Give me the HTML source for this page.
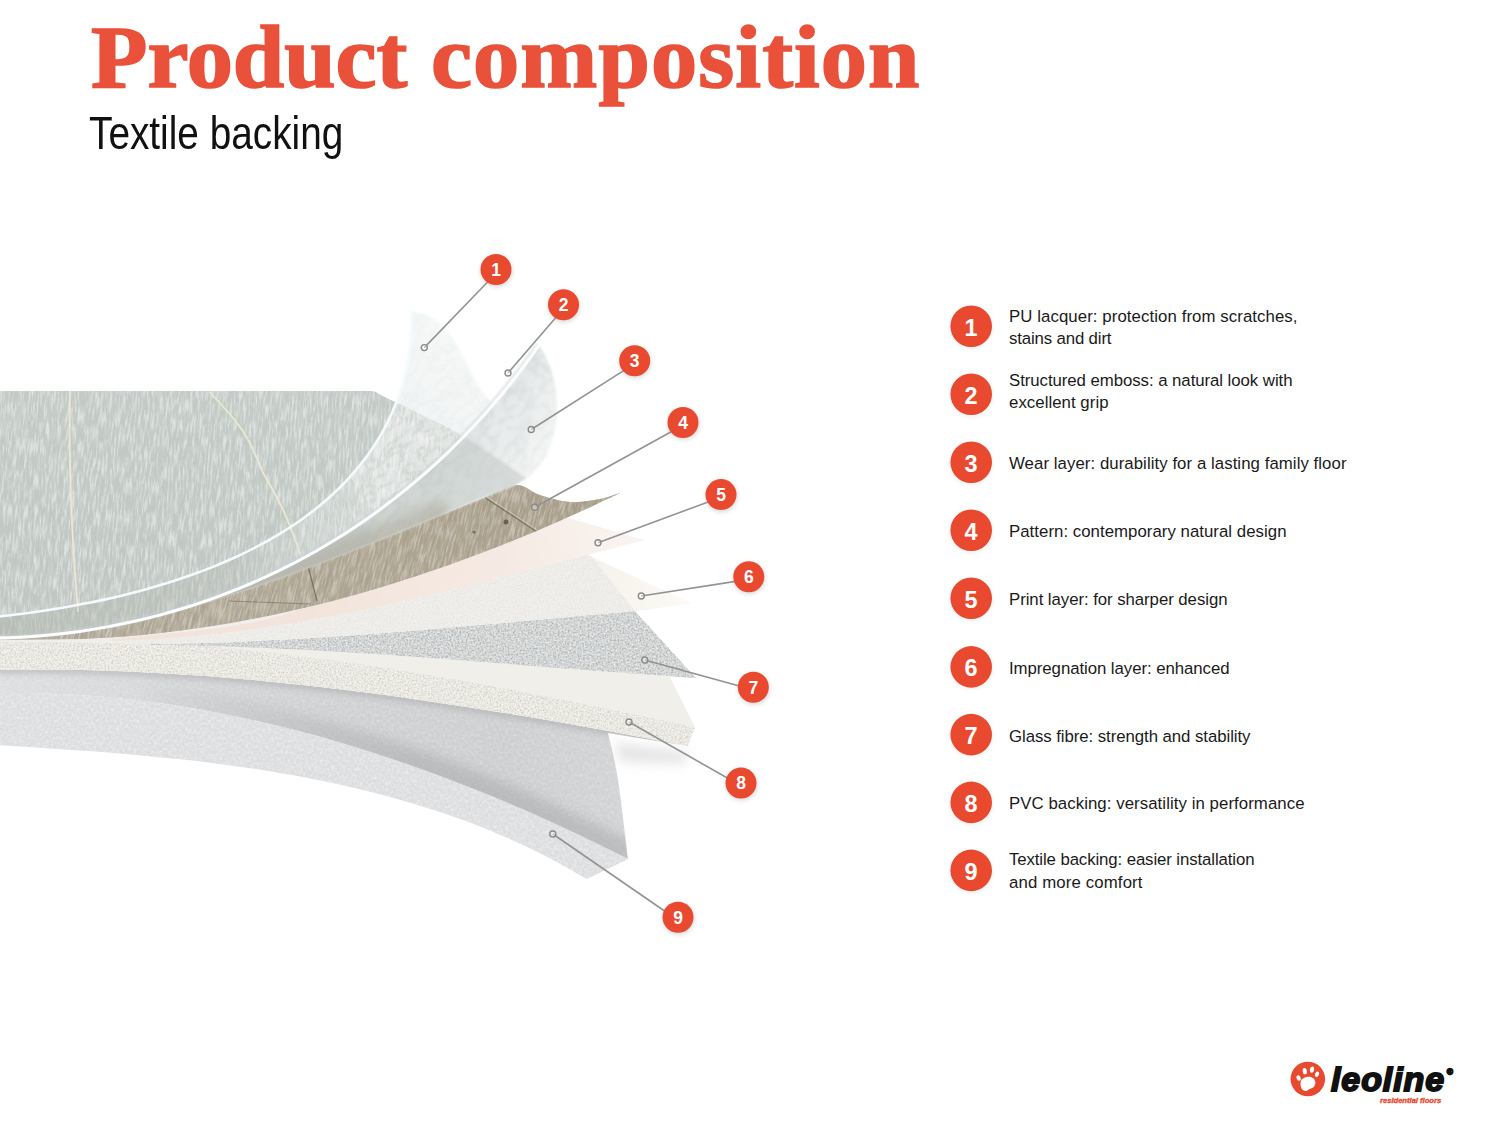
<!DOCTYPE html>
<html lang="en"><head><meta charset="utf-8"><title>Product composition - Textile backing</title>
<style>
html,body{margin:0;padding:0;background:#fff}
body{width:1500px;height:1125px;position:relative;overflow:hidden;font-family:"Liberation Sans",sans-serif}
h1{position:absolute;left:91px;top:8.5px;margin:0;font:bold 88px/97px "Liberation Serif",serif;color:#e9513a;letter-spacing:.62px;white-space:nowrap;-webkit-text-stroke:1.7px #e9513a;transform:scaleX(1.05);transform-origin:0 0}
.sub{position:absolute;left:89.2px;top:109.6px;font:45.5px/48px "Liberation Sans",sans-serif;color:#111;white-space:nowrap;transform:scaleX(.852);transform-origin:0 0}
.lg{position:absolute;left:1009px;font:16.8px/21.8px "Liberation Sans",sans-serif;color:#1a1a1a;white-space:nowrap}
.logo{position:absolute;left:1331px;top:1059.6px;font:italic bold 34px/38px "Liberation Sans",sans-serif;color:#111;letter-spacing:.9px;-webkit-text-stroke:1.9px #111;white-space:nowrap}
.tag{position:absolute;left:1380px;top:1096px;font:italic bold 7.6px/9px "Liberation Sans",sans-serif;color:#e8492f;white-space:nowrap;-webkit-text-stroke:.35px #e8492f}
</style></head><body>
<svg width="1500" height="1125" viewBox="0 0 1500 1125" style="position:absolute;left:0;top:0">
<defs>
<filter id="spk" x="0" y="0" width="100%" height="100%"><feTurbulence type="fractalNoise" baseFrequency="0.6" numOctaves="2" seed="3" result="n"/><feColorMatrix in="n" type="matrix" values="0 0 0 0 0  0 0 0 0 0  0 0 0 0 0  1.6 0 0 0 -0.62"/><feComposite in2="SourceGraphic" operator="in"/></filter>
<filter id="spkw" x="0" y="0" width="100%" height="100%"><feTurbulence type="fractalNoise" baseFrequency="0.5" numOctaves="2" seed="11" result="n"/><feColorMatrix in="n" type="matrix" values="0 0 0 0 1  0 0 0 0 1  0 0 0 0 1  1.8 0 0 0 -0.7"/><feComposite in2="SourceGraphic" operator="in"/></filter>
<filter id="felt" x="0" y="0" width="100%" height="100%"><feTurbulence type="fractalNoise" baseFrequency="0.35" numOctaves="3" seed="7" result="n"/><feColorMatrix in="n" type="matrix" values="0 0 0 0 1  0 0 0 0 1  0 0 0 0 1  1.5 0 0 0 -0.55"/><feComposite in2="SourceGraphic" operator="in"/></filter>
<filter id="grain" x="0" y="0" width="100%" height="100%"><feTurbulence type="fractalNoise" baseFrequency="0.55 0.06" numOctaves="3" seed="5" result="n"/><feColorMatrix in="n" type="matrix" values="0 0 0 0 1  0 0 0 0 1  0 0 0 0 1  3.2 0 0 0 -1.35"/><feComposite in2="SourceGraphic" operator="in"/></filter>
<filter id="marble" x="0" y="0" width="100%" height="100%"><feTurbulence type="turbulence" baseFrequency="0.05 0.09" numOctaves="3" seed="4" result="n"/><feColorMatrix in="n" type="matrix" values="0 0 0 0 1  0 0 0 0 1  0 0 0 0 1  4.5 0 0 0 -0.55"/><feComposite in2="SourceGraphic" operator="in"/></filter>
<filter id="grain2" x="0" y="0" width="100%" height="100%"><feTurbulence type="fractalNoise" baseFrequency="0.3 0.035" numOctaves="2" seed="21" result="n"/><feColorMatrix in="n" type="matrix" values="0 0 0 0 0.56  0 0 0 0 0.6  0 0 0 0 0.59  3 0 0 0 -1.4"/><feComposite in2="SourceGraphic" operator="in"/></filter>
<filter id="graind" x="0" y="0" width="100%" height="100%"><feTurbulence type="fractalNoise" baseFrequency="0.5 0.035" numOctaves="3" seed="9" result="n"/><feColorMatrix in="n" type="matrix" values="0 0 0 0 0.36  0 0 0 0 0.31  0 0 0 0 0.23  3.4 0 0 0 -1.45"/><feComposite in2="SourceGraphic" operator="in"/></filter>
<filter id="blur6" x="-50%" y="-100%" width="200%" height="300%"><feGaussianBlur stdDeviation="6"/></filter>
<filter id="blur3" x="-5%" y="-50%" width="110%" height="200%"><feGaussianBlur stdDeviation="3"/></filter>
<filter id="blur1" x="-5%" y="-5%" width="110%" height="110%"><feGaussianBlur stdDeviation="1.1"/></filter>
<filter id="bsh" x="-30%" y="-30%" width="160%" height="160%"><feGaussianBlur stdDeviation="2"/></filter>
<linearGradient id="gFloor" x1="0" y1="391" x2="0" y2="640" gradientUnits="userSpaceOnUse"><stop offset="0" stop-color="#c3cbc6"/><stop offset="1" stop-color="#bfc7c2"/></linearGradient>
<linearGradient id="gWood" x1="100" y1="640" x2="600" y2="480" gradientUnits="userSpaceOnUse"><stop offset="0" stop-color="#b4ad9d"/><stop offset="0.55" stop-color="#b0a895"/><stop offset="1" stop-color="#a89e8a"/></linearGradient>
<linearGradient id="gTexTop" x1="0" y1="0" x2="630" y2="0" gradientUnits="userSpaceOnUse"><stop offset="0" stop-color="#dddedf"/><stop offset="0.25" stop-color="#d6d7d8"/><stop offset="0.5" stop-color="#d0d1d2"/><stop offset="0.8" stop-color="#cdcecf"/><stop offset="1" stop-color="#d2d3d5"/></linearGradient>
<linearGradient id="gTexTopL" x1="0" y1="670" x2="0" y2="700" gradientUnits="userSpaceOnUse"><stop offset="0" stop-color="#b9babb"/><stop offset="1" stop-color="#d2d3d4"/></linearGradient>
<linearGradient id="gF2" x1="455" y1="405" x2="550" y2="480" gradientUnits="userSpaceOnUse"><stop offset="0" stop-color="#cfd5d5"/><stop offset="0.45" stop-color="#dee3e3"/><stop offset="1" stop-color="#f2f4f4"/></linearGradient>
<linearGradient id="gF1" x1="330" y1="520" x2="440" y2="320" gradientUnits="userSpaceOnUse"><stop offset="0" stop-color="#dde3e2"/><stop offset="0.5" stop-color="#e6ebeb"/><stop offset="1" stop-color="#eef2f2"/></linearGradient>
<linearGradient id="gPeach" x1="300" y1="620" x2="640" y2="530" gradientUnits="userSpaceOnUse"><stop offset="0" stop-color="#f2e4db"/><stop offset="0.6" stop-color="#f5eae3"/><stop offset="1" stop-color="#faf4f0"/></linearGradient>
<linearGradient id="gL6" x1="560" y1="0" x2="691" y2="0" gradientUnits="userSpaceOnUse"><stop offset="0" stop-color="#f3f1ec"/><stop offset="0.5" stop-color="#f8f5ef"/><stop offset="1" stop-color="#fcfaf6"/></linearGradient>
<linearGradient id="gVeil" x1="0" y1="0" x2="520" y2="0" gradientUnits="userSpaceOnUse"><stop offset="0" stop-color="#a9aca4" stop-opacity=".38"/><stop offset="0.45" stop-color="#b4b7b0" stop-opacity=".3"/><stop offset="0.6" stop-color="#e8eceb" stop-opacity=".2"/><stop offset="0.72" stop-color="#fff" stop-opacity=".24"/><stop offset="1" stop-color="#fff" stop-opacity=".28"/></linearGradient>
<linearGradient id="gTTd" x1="120" y1="0" x2="420" y2="0" gradientUnits="userSpaceOnUse"><stop offset="0" stop-color="#a4a5a8" stop-opacity="0"/><stop offset="1" stop-color="#a4a5a8" stop-opacity="1"/></linearGradient>
</defs>
<path d="M-5.0 670.0C4.0 669.9 30.9 669.5 48.8 669.6C66.8 669.7 84.7 670.0 102.6 670.6C120.5 671.1 138.4 671.9 156.3 672.9C174.1 673.8 192.0 675.0 209.9 676.3C227.7 677.7 245.5 679.2 263.3 680.9C281.2 682.6 299.0 684.5 316.7 686.5C334.5 688.5 352.3 690.7 370.1 693.0C387.8 695.3 405.6 697.8 423.3 700.4C441.0 702.9 458.7 705.6 476.4 708.4C494.1 711.2 511.8 714.1 529.4 717.1C547.1 720.1 564.8 723.2 582.4 726.3C600.0 729.5 617.6 732.7 635.2 736.0C652.8 739.3 679.2 744.3 688.0 746.0L608.0 733.0C609.7 740.8 614.7 759.0 618.0 780.0C621.3 801.0 626.3 845.8 628.0 859.0L628.0 859.0C620.4 855.3 597.8 843.9 582.5 836.6C567.3 829.3 551.9 822.2 536.4 815.3C520.9 808.5 505.3 801.8 489.7 795.3C474.0 788.9 458.2 782.7 442.3 776.7C426.4 770.8 410.4 765.1 394.4 759.7C378.3 754.3 362.1 749.1 345.9 744.3C329.7 739.4 313.4 734.8 297.0 730.6C280.6 726.4 264.1 722.4 247.6 718.9C231.0 715.3 214.4 712.0 197.7 709.1C181.1 706.2 164.3 703.7 147.5 701.6C130.7 699.4 113.9 697.6 97.0 696.3C80.1 694.9 63.1 693.9 46.1 693.4C29.1 692.8 3.5 693.1 -5.0 693.0Z" fill="url(#gTexTop)"/>
<path d="M-5.0 670.0C4.0 669.9 30.9 669.5 48.8 669.6C66.8 669.7 84.7 670.0 102.6 670.6C120.5 671.1 138.4 671.9 156.3 672.9C174.1 673.8 192.0 675.0 209.9 676.3C227.7 677.7 245.5 679.2 263.3 680.9C281.2 682.6 299.0 684.5 316.7 686.5C334.5 688.5 352.3 690.7 370.1 693.0C387.8 695.3 405.6 697.8 423.3 700.4C441.0 702.9 458.7 705.6 476.4 708.4C494.1 711.2 511.8 714.1 529.4 717.1C547.1 720.1 564.8 723.2 582.4 726.3C600.0 729.5 617.6 732.7 635.2 736.0C652.8 739.3 679.2 744.3 688.0 746.0L608.0 733.0C609.7 740.8 614.7 759.0 618.0 780.0C621.3 801.0 626.3 845.8 628.0 859.0L628.0 859.0C620.4 855.3 597.8 843.9 582.5 836.6C567.3 829.3 551.9 822.2 536.4 815.3C520.9 808.5 505.3 801.8 489.7 795.3C474.0 788.9 458.2 782.7 442.3 776.7C426.4 770.8 410.4 765.1 394.4 759.7C378.3 754.3 362.1 749.1 345.9 744.3C329.7 739.4 313.4 734.8 297.0 730.6C280.6 726.4 264.1 722.4 247.6 718.9C231.0 715.3 214.4 712.0 197.7 709.1C181.1 706.2 164.3 703.7 147.5 701.6C130.7 699.4 113.9 697.6 97.0 696.3C80.1 694.9 63.1 693.9 46.1 693.4C29.1 692.8 3.5 693.1 -5.0 693.0Z" fill="#fff" opacity=".35" filter="url(#felt)"/>
<path d="M-5.0 693.0C3.5 693.1 29.1 692.8 46.1 693.4C63.1 693.9 80.1 694.9 97.0 696.3C113.9 697.6 130.7 699.4 147.5 701.6C164.3 703.7 181.1 706.2 197.7 709.1C214.4 712.0 231.0 715.3 247.6 718.9C264.1 722.4 280.6 726.4 297.0 730.6C313.4 734.8 329.7 739.4 345.9 744.3C362.1 749.1 378.3 754.3 394.4 759.7C410.4 765.1 426.4 770.8 442.3 776.7C458.2 782.7 474.0 788.9 489.7 795.3C505.3 801.8 520.9 808.5 536.4 815.3C551.9 822.2 567.3 829.3 582.5 836.6C597.8 843.9 620.4 855.3 628.0 859.0L628.0 859.0C621.2 862.3 593.8 875.7 587.0 879.0L587.0 879.0C580.1 875.2 559.5 863.1 545.4 856.0C531.4 848.8 517.1 842.1 502.7 835.9C488.3 829.7 473.7 824.0 459.0 818.6C444.3 813.3 429.4 808.4 414.4 803.9C399.5 799.4 384.3 795.3 369.1 791.4C353.9 787.6 338.6 784.2 323.2 781.0C307.8 777.9 292.3 775.0 276.8 772.4C261.3 769.8 245.6 767.5 230.0 765.4C214.4 763.2 198.7 761.3 183.0 759.6C167.3 757.9 151.6 756.4 135.8 754.9C120.1 753.5 104.4 752.3 88.7 751.1C73.0 749.9 57.4 748.9 41.7 747.9C26.1 746.9 2.8 745.5 -5.0 745.0Z" fill="#dcddde"/>
<path d="M-5.0 693.0C3.5 693.1 29.1 692.8 46.1 693.4C63.1 693.9 80.1 694.9 97.0 696.3C113.9 697.6 130.7 699.4 147.5 701.6C164.3 703.7 181.1 706.2 197.7 709.1C214.4 712.0 231.0 715.3 247.6 718.9C264.1 722.4 280.6 726.4 297.0 730.6C313.4 734.8 329.7 739.4 345.9 744.3C362.1 749.1 378.3 754.3 394.4 759.7C410.4 765.1 426.4 770.8 442.3 776.7C458.2 782.7 474.0 788.9 489.7 795.3C505.3 801.8 520.9 808.5 536.4 815.3C551.9 822.2 567.3 829.3 582.5 836.6C597.8 843.9 620.4 855.3 628.0 859.0L628.0 859.0C621.2 862.3 593.8 875.7 587.0 879.0L587.0 879.0C580.1 875.2 559.5 863.1 545.4 856.0C531.4 848.8 517.1 842.1 502.7 835.9C488.3 829.7 473.7 824.0 459.0 818.6C444.3 813.3 429.4 808.4 414.4 803.9C399.5 799.4 384.3 795.3 369.1 791.4C353.9 787.6 338.6 784.2 323.2 781.0C307.8 777.9 292.3 775.0 276.8 772.4C261.3 769.8 245.6 767.5 230.0 765.4C214.4 763.2 198.7 761.3 183.0 759.6C167.3 757.9 151.6 756.4 135.8 754.9C120.1 753.5 104.4 752.3 88.7 751.1C73.0 749.9 57.4 748.9 41.7 747.9C26.1 746.9 2.8 745.5 -5.0 745.0Z" fill="#fff" opacity=".6" filter="url(#felt)"/>
<path d="M-5.0 670.0C4.0 669.9 30.9 669.5 48.8 669.6C66.8 669.7 84.7 670.0 102.6 670.6C120.5 671.1 138.4 671.9 156.3 672.9C174.1 673.8 192.0 675.0 209.9 676.3C227.7 677.7 245.5 679.2 263.3 680.9C281.2 682.6 299.0 684.5 316.7 686.5C334.5 688.5 352.3 690.7 370.1 693.0C387.8 695.3 405.6 697.8 423.3 700.4C441.0 702.9 458.7 705.6 476.4 708.4C494.1 711.2 511.8 714.1 529.4 717.1C547.1 720.1 564.8 723.2 582.4 726.3C600.0 729.5 617.6 732.7 635.2 736.0C652.8 739.3 679.2 744.3 688.0 746.0" fill="none" stroke="#9d9e9f" stroke-width="7" opacity=".5" filter="url(#blur3)" clip-path="url(#cTex)"/>
<g clip-path="url(#cTex)"><path d="M147.5 701.6C155.9 702.8 181.1 706.2 197.7 709.1C214.4 712.0 231.0 715.3 247.6 718.9C264.1 722.4 280.6 726.4 297.0 730.6C313.4 734.8 329.7 739.4 345.9 744.3C362.1 749.1 378.3 754.3 394.4 759.7C410.4 765.1 426.4 770.8 442.3 776.7C458.2 782.7 474.0 788.9 489.7 795.3C505.3 801.8 520.9 808.5 536.4 815.3C551.9 822.2 567.3 829.3 582.5 836.6C597.8 843.9 620.4 855.3 628.0 859.0" fill="none" stroke="url(#gTTd)" stroke-width="34" opacity=".5" filter="url(#blur6)"/></g>
<clipPath id="cTex"><path d="M-5.0 670.0C4.0 669.9 30.9 669.5 48.8 669.6C66.8 669.7 84.7 670.0 102.6 670.6C120.5 671.1 138.4 671.9 156.3 672.9C174.1 673.8 192.0 675.0 209.9 676.3C227.7 677.7 245.5 679.2 263.3 680.9C281.2 682.6 299.0 684.5 316.7 686.5C334.5 688.5 352.3 690.7 370.1 693.0C387.8 695.3 405.6 697.8 423.3 700.4C441.0 702.9 458.7 705.6 476.4 708.4C494.1 711.2 511.8 714.1 529.4 717.1C547.1 720.1 564.8 723.2 582.4 726.3C600.0 729.5 617.6 732.7 635.2 736.0C652.8 739.3 679.2 744.3 688.0 746.0L608.0 733.0C609.7 740.8 614.7 759.0 618.0 780.0C621.3 801.0 626.3 845.8 628.0 859.0L628.0 859.0C620.4 855.3 597.8 843.9 582.5 836.6C567.3 829.3 551.9 822.2 536.4 815.3C520.9 808.5 505.3 801.8 489.7 795.3C474.0 788.9 458.2 782.7 442.3 776.7C426.4 770.8 410.4 765.1 394.4 759.7C378.3 754.3 362.1 749.1 345.9 744.3C329.7 739.4 313.4 734.8 297.0 730.6C280.6 726.4 264.1 722.4 247.6 718.9C231.0 715.3 214.4 712.0 197.7 709.1C181.1 706.2 164.3 703.7 147.5 701.6C130.7 699.4 113.9 697.6 97.0 696.3C80.1 694.9 63.1 693.9 46.1 693.4C29.1 692.8 3.5 693.1 -5.0 693.0Z"/></clipPath>
<path d="M614 742 L690 752 L684 764 L620 762Z" fill="#b0b0b0" opacity=".32" filter="url(#blur6)"/>
<path d="M-5.0 642.0C12.5 642.2 74.2 642.6 100.0 643.0C125.8 643.4 141.7 644.2 150.0 644.5L210.8 646.1C220.9 646.4 251.3 647.4 271.5 648.3C291.8 649.2 312.0 650.3 332.2 651.5C352.5 652.6 372.7 654.0 392.9 655.3C413.1 656.7 433.3 658.2 453.5 659.7C473.7 661.2 493.9 662.8 514.1 664.4C534.3 666.0 554.5 667.6 574.7 669.2C594.9 670.7 615.1 672.3 635.3 673.8C655.6 675.2 685.9 677.3 696.0 678.0L696.0 678.0C691.5 677.5 673.5 675.5 669.0 675.0L669.0 675.0C673.3 683.7 690.7 718.3 695.0 727.0L695.0 727.0C693.8 730.2 689.2 742.8 688.0 746.0L688.0 746.0C679.2 744.3 652.8 739.3 635.2 736.0C617.6 732.7 600.0 729.5 582.4 726.3C564.8 723.2 547.1 720.1 529.4 717.1C511.8 714.1 494.1 711.2 476.4 708.4C458.7 705.6 441.0 702.9 423.3 700.4C405.6 697.8 387.8 695.3 370.1 693.0C352.3 690.7 334.5 688.5 316.7 686.5C299.0 684.5 281.2 682.6 263.3 680.9C245.5 679.2 227.7 677.7 209.9 676.3C192.0 675.0 174.1 673.8 156.3 672.9C138.4 671.9 120.5 671.1 102.6 670.6C84.7 670.0 66.8 669.7 48.8 669.6C30.9 669.5 4.0 669.9 -5.0 670.0Z" fill="#f0efea"/>
<path d="M-5.0 642.0C5.8 641.7 38.1 640.5 59.6 640.4C81.1 640.3 102.5 640.7 123.9 641.4C145.3 642.2 166.7 643.4 188.1 644.9C209.4 646.4 230.7 648.3 252.0 650.5C273.3 652.7 294.6 655.2 315.8 657.9C337.0 660.7 358.2 663.8 379.4 667.0C400.6 670.2 421.7 673.7 442.8 677.4C463.9 681.0 485.0 684.9 506.1 688.9C527.2 692.8 548.2 696.9 569.2 701.1C590.2 705.3 611.2 709.6 632.2 713.9C653.1 718.2 684.5 724.8 695.0 727.0L695.0 727.0C693.8 730.2 689.2 742.8 688.0 746.0L688.0 746.0C679.2 744.3 652.8 739.3 635.2 736.0C617.6 732.7 600.0 729.5 582.4 726.3C564.8 723.2 547.1 720.1 529.4 717.1C511.8 714.1 494.1 711.2 476.4 708.4C458.7 705.6 441.0 702.9 423.3 700.4C405.6 697.8 387.8 695.3 370.1 693.0C352.3 690.7 334.5 688.5 316.7 686.5C299.0 684.5 281.2 682.6 263.3 680.9C245.5 679.2 227.7 677.7 209.9 676.3C192.0 675.0 174.1 673.8 156.3 672.9C138.4 671.9 120.5 671.1 102.6 670.6C84.7 670.0 66.8 669.7 48.8 669.6C30.9 669.5 4.0 669.9 -5.0 670.0Z" fill="#eeece4"/>
<path d="M-5.0 642.0C5.8 641.7 38.1 640.5 59.6 640.4C81.1 640.3 102.5 640.7 123.9 641.4C145.3 642.2 166.7 643.4 188.1 644.9C209.4 646.4 230.7 648.3 252.0 650.5C273.3 652.7 294.6 655.2 315.8 657.9C337.0 660.7 358.2 663.8 379.4 667.0C400.6 670.2 421.7 673.7 442.8 677.4C463.9 681.0 485.0 684.9 506.1 688.9C527.2 692.8 548.2 696.9 569.2 701.1C590.2 705.3 611.2 709.6 632.2 713.9C653.1 718.2 684.5 724.8 695.0 727.0L695.0 727.0C693.8 730.2 689.2 742.8 688.0 746.0L688.0 746.0C679.2 744.3 652.8 739.3 635.2 736.0C617.6 732.7 600.0 729.5 582.4 726.3C564.8 723.2 547.1 720.1 529.4 717.1C511.8 714.1 494.1 711.2 476.4 708.4C458.7 705.6 441.0 702.9 423.3 700.4C405.6 697.8 387.8 695.3 370.1 693.0C352.3 690.7 334.5 688.5 316.7 686.5C299.0 684.5 281.2 682.6 263.3 680.9C245.5 679.2 227.7 677.7 209.9 676.3C192.0 675.0 174.1 673.8 156.3 672.9C138.4 671.9 120.5 671.1 102.6 670.6C84.7 670.0 66.8 669.7 48.8 669.6C30.9 669.5 4.0 669.9 -5.0 670.0Z" fill="#b3b0a4" opacity=".2" filter="url(#spk)"/>
<path d="M-5.0 642.0C5.8 641.7 38.1 640.5 59.6 640.4C81.1 640.3 102.5 640.7 123.9 641.4C145.3 642.2 166.7 643.4 188.1 644.9C209.4 646.4 230.7 648.3 252.0 650.5C273.3 652.7 294.6 655.2 315.8 657.9C337.0 660.7 358.2 663.8 379.4 667.0C400.6 670.2 421.7 673.7 442.8 677.4C463.9 681.0 485.0 684.9 506.1 688.9C527.2 692.8 548.2 696.9 569.2 701.1C590.2 705.3 611.2 709.6 632.2 713.9C653.1 718.2 684.5 724.8 695.0 727.0L695.0 727.0C693.8 730.2 689.2 742.8 688.0 746.0L688.0 746.0C679.2 744.3 652.8 739.3 635.2 736.0C617.6 732.7 600.0 729.5 582.4 726.3C564.8 723.2 547.1 720.1 529.4 717.1C511.8 714.1 494.1 711.2 476.4 708.4C458.7 705.6 441.0 702.9 423.3 700.4C405.6 697.8 387.8 695.3 370.1 693.0C352.3 690.7 334.5 688.5 316.7 686.5C299.0 684.5 281.2 682.6 263.3 680.9C245.5 679.2 227.7 677.7 209.9 676.3C192.0 675.0 174.1 673.8 156.3 672.9C138.4 671.9 120.5 671.1 102.6 670.6C84.7 670.0 66.8 669.7 48.8 669.6C30.9 669.5 4.0 669.9 -5.0 670.0Z" fill="#fff" opacity=".75" filter="url(#spkw)"/>
<path d="M150.0 644.0C159.0 643.8 186.0 643.4 204.0 642.9C222.1 642.4 240.0 641.7 258.0 640.8C276.0 640.0 294.0 639.0 312.0 637.9C329.9 636.8 347.9 635.6 365.9 634.3C383.8 633.0 401.8 631.5 419.7 630.1C437.7 628.6 455.6 627.1 473.6 625.5C491.5 624.0 509.4 622.3 527.4 620.7C545.3 619.1 563.2 617.4 581.2 615.8C599.1 614.2 626.0 611.8 635.0 611.0L635.0 611.0C645.2 622.2 685.8 666.8 696.0 678.0L696.0 678.0C685.9 677.3 655.6 675.2 635.3 673.8C615.1 672.3 594.9 670.7 574.7 669.2C554.5 667.6 534.3 666.0 514.1 664.4C493.9 662.8 473.7 661.2 453.5 659.7C433.3 658.2 413.1 656.7 392.9 655.3C372.7 654.0 352.5 652.6 332.2 651.5C312.0 650.3 291.8 649.2 271.5 648.3C251.3 647.4 231.1 646.6 210.8 646.1C190.6 645.5 160.1 645.2 150.0 645.0Z" fill="#d5d8d8"/>
<path d="M150.0 644.0C159.0 643.8 186.0 643.4 204.0 642.9C222.1 642.4 240.0 641.7 258.0 640.8C276.0 640.0 294.0 639.0 312.0 637.9C329.9 636.8 347.9 635.6 365.9 634.3C383.8 633.0 401.8 631.5 419.7 630.1C437.7 628.6 455.6 627.1 473.6 625.5C491.5 624.0 509.4 622.3 527.4 620.7C545.3 619.1 563.2 617.4 581.2 615.8C599.1 614.2 626.0 611.8 635.0 611.0L635.0 611.0C645.2 622.2 685.8 666.8 696.0 678.0L696.0 678.0C685.9 677.3 655.6 675.2 635.3 673.8C615.1 672.3 594.9 670.7 574.7 669.2C554.5 667.6 534.3 666.0 514.1 664.4C493.9 662.8 473.7 661.2 453.5 659.7C433.3 658.2 413.1 656.7 392.9 655.3C372.7 654.0 352.5 652.6 332.2 651.5C312.0 650.3 291.8 649.2 271.5 648.3C251.3 647.4 231.1 646.6 210.8 646.1C190.6 645.5 160.1 645.2 150.0 645.0Z" fill="#9a9e9e" opacity=".3" filter="url(#spk)"/>
<path d="M150.0 644.0C159.0 643.8 186.0 643.4 204.0 642.9C222.1 642.4 240.0 641.7 258.0 640.8C276.0 640.0 294.0 639.0 312.0 637.9C329.9 636.8 347.9 635.6 365.9 634.3C383.8 633.0 401.8 631.5 419.7 630.1C437.7 628.6 455.6 627.1 473.6 625.5C491.5 624.0 509.4 622.3 527.4 620.7C545.3 619.1 563.2 617.4 581.2 615.8C599.1 614.2 626.0 611.8 635.0 611.0L635.0 611.0C645.2 622.2 685.8 666.8 696.0 678.0L696.0 678.0C685.9 677.3 655.6 675.2 635.3 673.8C615.1 672.3 594.9 670.7 574.7 669.2C554.5 667.6 534.3 666.0 514.1 664.4C493.9 662.8 473.7 661.2 453.5 659.7C433.3 658.2 413.1 656.7 392.9 655.3C372.7 654.0 352.5 652.6 332.2 651.5C312.0 650.3 291.8 649.2 271.5 648.3C251.3 647.4 231.1 646.6 210.8 646.1C190.6 645.5 160.1 645.2 150.0 645.0Z" fill="#fff" opacity=".8" filter="url(#spkw)"/>
<path d="M-5.0 640.0C1.1 639.6 19.5 638.9 31.6 637.8C43.7 636.8 55.8 635.4 67.8 633.7C79.8 632.1 91.8 630.1 103.7 627.9C115.6 625.7 127.5 623.2 139.3 620.5C151.1 617.8 162.9 614.8 174.6 611.7C186.3 608.5 197.9 605.2 209.6 601.6C221.2 598.1 232.8 594.4 244.3 590.6C255.9 586.7 267.4 582.7 278.9 578.6C290.3 574.5 301.8 570.3 313.2 566.0C324.6 561.7 336.0 557.2 347.3 552.8C358.7 548.3 370.0 543.8 381.3 539.2C392.6 534.7 403.9 530.1 415.1 525.5C426.4 521.0 437.6 516.3 448.9 511.8C460.1 507.2 471.3 502.7 482.5 498.2C493.7 493.8 510.4 487.2 516.0 485.0L516.0 485.0C528.7 497.0 562.8 537.3 592.0 557.0C621.2 576.7 674.5 595.3 691.0 603.0L691.0 603.0C681.7 604.3 644.3 609.7 635.0 611.0L635.0 611.0C626.0 611.8 599.1 614.2 581.2 615.8C563.2 617.4 545.3 619.1 527.4 620.7C509.4 622.3 491.5 624.0 473.6 625.5C455.6 627.1 437.7 628.6 419.7 630.1C401.8 631.5 383.8 633.0 365.9 634.3C347.9 635.6 329.9 636.8 312.0 637.9C294.0 639.0 276.0 640.0 258.0 640.8C240.0 641.7 222.1 642.4 204.0 642.9C186.0 643.4 159.0 643.8 150.0 644.0L100.0 643.0C82.5 642.8 12.5 642.2 -5.0 642.0Z" fill="#f0efeb"/>
<path d="M112.0 641.0C122.1 640.5 152.3 639.5 172.3 637.9C192.4 636.4 212.4 634.3 232.4 631.8C252.3 629.3 272.2 626.3 292.1 623.0C311.9 619.7 331.7 615.9 351.5 611.9C371.3 608.0 391.0 603.7 410.6 599.2C430.3 594.7 450.0 590.0 469.6 585.2C489.2 580.4 508.7 575.3 528.2 570.3C547.8 565.3 576.1 557.3 586.7 555.1C597.3 552.9 591.1 556.7 592.0 557.0L592.0 557.0C599.2 566.0 627.8 602.0 635.0 611.0L635.0 611.0C626.0 611.8 599.1 614.2 581.2 615.8C563.2 617.4 545.3 619.1 527.4 620.7C509.4 622.3 491.5 624.0 473.6 625.5C455.6 627.1 437.7 628.6 419.7 630.1C401.8 631.5 383.8 633.0 365.9 634.3C347.9 635.6 329.9 636.8 312.0 637.9C294.0 639.0 276.0 640.0 258.0 640.8C240.0 641.7 222.1 642.4 204.0 642.9C186.0 643.4 159.0 643.8 150.0 644.0Z" fill="#c2c0ba" opacity=".06" filter="url(#spk)"/>
<path d="M592 557 L691 603 L635 611 Z" fill="url(#gL6)"/>
<path d="M112.0 639.0C137.3 635.8 216.0 631.2 264.0 620.0C312.0 608.8 360.7 585.7 400.0 572.0C439.3 558.3 473.0 547.3 500.0 538.0C527.0 528.7 551.7 519.7 562.0 516.0L562.0 516.0C575.8 520.0 631.2 536.0 645.0 540.0L645.0 540.0C635.3 542.5 606.2 550.1 586.7 555.1C567.3 560.2 547.8 565.3 528.2 570.3C508.7 575.3 489.2 580.4 469.6 585.2C450.0 590.0 430.3 594.7 410.6 599.2C391.0 603.7 371.3 608.0 351.5 611.9C331.7 615.9 311.9 619.7 292.1 623.0C272.2 626.3 252.3 629.3 232.4 631.8C212.4 634.3 192.4 636.4 172.3 637.9C152.3 639.5 122.1 640.5 112.0 641.0Z" fill="url(#gPeach)"/>
<path d="M-5.0 640.0C1.1 639.6 19.5 638.9 31.6 637.8C43.7 636.8 55.8 635.4 67.8 633.7C79.8 632.1 91.8 630.1 103.7 627.9C115.6 625.7 127.5 623.2 139.3 620.5C151.1 617.8 162.9 614.8 174.6 611.7C186.3 608.5 197.9 605.2 209.6 601.6C221.2 598.1 232.8 594.4 244.3 590.6C255.9 586.7 267.4 582.7 278.9 578.6C290.3 574.5 301.8 570.3 313.2 566.0C324.6 561.7 336.0 557.2 347.3 552.8C358.7 548.3 370.0 543.8 381.3 539.2C392.6 534.7 403.9 530.1 415.1 525.5C426.4 521.0 437.6 516.3 448.9 511.8C460.1 507.2 471.3 502.7 482.5 498.2C493.7 493.8 506.4 485.5 516.0 485.0C525.6 484.5 531.0 492.2 540.0 495.0C549.0 497.8 560.0 501.3 570.0 502.0C580.0 502.7 591.5 500.6 600.0 499.0C608.5 497.4 617.5 493.6 621.0 492.5L621.0 492.5C615.4 495.2 598.6 503.3 587.3 508.5C576.0 513.7 564.6 518.8 553.2 523.7C541.8 528.7 530.3 533.6 518.8 538.3C507.2 543.0 495.6 547.6 484.0 552.0C472.3 556.5 460.6 560.8 448.9 565.0C437.1 569.1 425.3 573.2 413.5 577.0C401.6 580.9 389.7 584.6 377.8 588.2C365.8 591.7 353.8 595.1 341.8 598.4C329.8 601.6 317.7 604.7 305.6 607.5C293.5 610.4 281.3 613.2 269.1 615.7C257.0 618.2 244.7 620.6 232.5 622.7C220.2 624.9 207.9 626.8 195.6 628.6C183.3 630.4 170.9 632.0 158.6 633.3C146.2 634.7 133.8 635.9 121.4 636.8C108.9 637.7 90.2 638.6 84.0 639.0Z" fill="url(#gWood)"/>
<g clip-path="url(#cWood)"><clipPath id="cWood"><path d="M-5.0 640.0C1.1 639.6 19.5 638.9 31.6 637.8C43.7 636.8 55.8 635.4 67.8 633.7C79.8 632.1 91.8 630.1 103.7 627.9C115.6 625.7 127.5 623.2 139.3 620.5C151.1 617.8 162.9 614.8 174.6 611.7C186.3 608.5 197.9 605.2 209.6 601.6C221.2 598.1 232.8 594.4 244.3 590.6C255.9 586.7 267.4 582.7 278.9 578.6C290.3 574.5 301.8 570.3 313.2 566.0C324.6 561.7 336.0 557.2 347.3 552.8C358.7 548.3 370.0 543.8 381.3 539.2C392.6 534.7 403.9 530.1 415.1 525.5C426.4 521.0 437.6 516.3 448.9 511.8C460.1 507.2 471.3 502.7 482.5 498.2C493.7 493.8 506.4 485.5 516.0 485.0C525.6 484.5 531.0 492.2 540.0 495.0C549.0 497.8 560.0 501.3 570.0 502.0C580.0 502.7 591.5 500.6 600.0 499.0C608.5 497.4 617.5 493.6 621.0 492.5L621.0 492.5C615.4 495.2 598.6 503.3 587.3 508.5C576.0 513.7 564.6 518.8 553.2 523.7C541.8 528.7 530.3 533.6 518.8 538.3C507.2 543.0 495.6 547.6 484.0 552.0C472.3 556.5 460.6 560.8 448.9 565.0C437.1 569.1 425.3 573.2 413.5 577.0C401.6 580.9 389.7 584.6 377.8 588.2C365.8 591.7 353.8 595.1 341.8 598.4C329.8 601.6 317.7 604.7 305.6 607.5C293.5 610.4 281.3 613.2 269.1 615.7C257.0 618.2 244.7 620.6 232.5 622.7C220.2 624.9 207.9 626.8 195.6 628.6C183.3 630.4 170.9 632.0 158.6 633.3C146.2 634.7 133.8 635.9 121.4 636.8C108.9 637.7 90.2 638.6 84.0 639.0Z"/></clipPath>
<g transform="rotate(14 350 560)"><rect x="0" y="380" width="760" height="330" fill="#000" filter="url(#graind)" opacity=".6"/></g><g transform="rotate(14 350 560)"><rect x="0" y="380" width="760" height="330" fill="#fff" filter="url(#grain)" opacity=".35"/></g>
<path d="M308 566 L317 601" stroke="#5f5545" stroke-width="1.2" opacity=".7"/>
<path d="M478 493 L537 532" stroke="#6a5f4d" stroke-width="1.3" opacity=".7"/><path d="M479 491.6 L538 530.6" stroke="#d8d2c4" stroke-width="1" opacity=".7"/>
<path d="M229 601 L311 604" stroke="#6a5f4d" stroke-width="1" opacity=".5"/>
<circle cx="506" cy="522" r="2.5" fill="#4b4336" opacity=".7"/><circle cx="474" cy="532" r="1.6" fill="#4b4336" opacity=".6"/>
</g>
<clipPath id="cF1"><path d="M-5.0 617.0C-1.1 616.5 10.5 615.3 18.3 614.3C26.2 613.3 34.2 612.2 42.2 611.0C50.3 609.8 58.4 608.5 66.6 607.0C74.8 605.6 83.0 604.0 91.3 602.4C99.5 600.7 107.8 598.9 116.1 596.9C124.4 595.0 132.6 592.9 140.9 590.7C149.1 588.5 157.4 586.1 165.5 583.6C173.7 581.1 181.8 578.4 189.8 575.6C197.8 572.7 205.8 569.7 213.7 566.6C221.5 563.4 229.3 560.0 236.9 556.5C244.5 553.0 252.0 549.3 259.3 545.4C266.7 541.5 273.9 537.4 280.9 533.1C287.8 528.8 294.7 524.4 301.3 519.7C307.9 515.0 314.3 510.1 320.5 505.0C326.7 499.9 332.6 494.5 338.3 489.0C344.0 483.4 349.5 477.6 354.6 471.6C359.7 465.6 364.6 459.4 369.2 452.9C373.7 446.4 378.0 439.7 381.9 432.8C385.8 425.9 389.4 418.8 392.6 411.4C395.8 404.0 398.7 396.4 401.1 388.6C403.6 380.7 405.7 372.7 407.3 364.4C409.0 356.1 410.2 347.6 411.0 338.9C411.8 330.1 411.8 316.5 412.0 312.0L412.0 312.0C414.0 312.4 420.1 313.4 423.7 314.6C427.3 315.8 430.6 317.4 433.6 319.3C436.7 321.2 439.4 323.5 442.0 325.9C444.6 328.3 446.9 331.1 449.1 333.9C451.3 336.8 453.3 339.9 455.3 343.1C457.2 346.2 459.1 349.6 460.9 353.0C462.7 356.3 464.4 359.8 466.1 363.2C467.9 366.6 469.5 370.1 471.3 373.5C473.1 376.9 474.9 380.3 476.9 383.5C478.8 386.7 480.8 389.8 483.0 392.8C485.2 395.7 488.8 399.6 490.0 401.0L490.0 401.0C489.5 402.8 490.5 406.7 486.8 411.9C483.1 417.2 474.2 425.8 467.8 432.5C461.3 439.2 454.7 445.8 448.0 452.3C441.3 458.7 434.5 465.0 427.5 471.2C420.6 477.3 413.5 483.3 406.3 489.2C399.2 495.0 391.9 500.7 384.5 506.3C377.0 511.8 369.5 517.2 361.9 522.4C354.3 527.6 346.6 532.7 338.7 537.5C330.9 542.4 323.0 547.1 315.0 551.7C306.9 556.2 298.8 560.6 290.6 564.8C282.4 569.0 274.1 573.0 265.7 576.9C257.4 580.7 248.9 584.4 240.4 587.9C231.8 591.4 223.2 594.7 214.5 597.9C205.8 601.0 197.1 604.0 188.2 606.8C179.4 609.5 170.5 612.2 161.6 614.6C152.6 617.0 143.6 619.2 134.5 621.3C125.4 623.3 116.3 625.2 107.1 626.9C98.0 628.6 88.7 630.1 79.5 631.4C70.2 632.7 60.9 633.8 51.5 634.7C42.2 635.7 32.8 636.4 23.4 636.9C13.9 637.5 -0.3 637.8 -5.0 638.0Z"/></clipPath>
<path d="M-5.0 617.0C-1.1 616.5 10.5 615.3 18.3 614.3C26.2 613.3 34.2 612.2 42.2 611.0C50.3 609.8 58.4 608.5 66.6 607.0C74.8 605.6 83.0 604.0 91.3 602.4C99.5 600.7 107.8 598.9 116.1 596.9C124.4 595.0 132.6 592.9 140.9 590.7C149.1 588.5 157.4 586.1 165.5 583.6C173.7 581.1 181.8 578.4 189.8 575.6C197.8 572.7 205.8 569.7 213.7 566.6C221.5 563.4 229.3 560.0 236.9 556.5C244.5 553.0 252.0 549.3 259.3 545.4C266.7 541.5 273.9 537.4 280.9 533.1C287.8 528.8 294.7 524.4 301.3 519.7C307.9 515.0 314.3 510.1 320.5 505.0C326.7 499.9 332.6 494.5 338.3 489.0C344.0 483.4 349.5 477.6 354.6 471.6C359.7 465.6 364.6 459.4 369.2 452.9C373.7 446.4 378.0 439.7 381.9 432.8C385.8 425.9 389.4 418.8 392.6 411.4C395.8 404.0 398.7 396.4 401.1 388.6C403.6 380.7 405.7 372.7 407.3 364.4C409.0 356.1 410.2 347.6 411.0 338.9C411.8 330.1 411.8 316.5 412.0 312.0L412.0 312.0C414.0 312.4 420.1 313.4 423.7 314.6C427.3 315.8 430.6 317.4 433.6 319.3C436.7 321.2 439.4 323.5 442.0 325.9C444.6 328.3 446.9 331.1 449.1 333.9C451.3 336.8 453.3 339.9 455.3 343.1C457.2 346.2 459.1 349.6 460.9 353.0C462.7 356.3 464.4 359.8 466.1 363.2C467.9 366.6 469.5 370.1 471.3 373.5C473.1 376.9 474.9 380.3 476.9 383.5C478.8 386.7 480.8 389.8 483.0 392.8C485.2 395.7 488.8 399.6 490.0 401.0L490.0 401.0C489.5 402.8 490.5 406.7 486.8 411.9C483.1 417.2 474.2 425.8 467.8 432.5C461.3 439.2 454.7 445.8 448.0 452.3C441.3 458.7 434.5 465.0 427.5 471.2C420.6 477.3 413.5 483.3 406.3 489.2C399.2 495.0 391.9 500.7 384.5 506.3C377.0 511.8 369.5 517.2 361.9 522.4C354.3 527.6 346.6 532.7 338.7 537.5C330.9 542.4 323.0 547.1 315.0 551.7C306.9 556.2 298.8 560.6 290.6 564.8C282.4 569.0 274.1 573.0 265.7 576.9C257.4 580.7 248.9 584.4 240.4 587.9C231.8 591.4 223.2 594.7 214.5 597.9C205.8 601.0 197.1 604.0 188.2 606.8C179.4 609.5 170.5 612.2 161.6 614.6C152.6 617.0 143.6 619.2 134.5 621.3C125.4 623.3 116.3 625.2 107.1 626.9C98.0 628.6 88.7 630.1 79.5 631.4C70.2 632.7 60.9 633.8 51.5 634.7C42.2 635.7 32.8 636.4 23.4 636.9C13.9 637.5 -0.3 637.8 -5.0 638.0Z" fill="url(#gF1)" filter="url(#blur1)"/>
<path d="M-5.0 391.0C56.7 391.0 303.3 391.0 365.0 391.0L365.0 391.0C366.5 391.1 371.3 390.8 374.0 391.5C376.7 392.2 377.2 393.1 381.0 395.0C384.8 396.9 387.0 398.2 397.0 403.0C407.0 407.8 428.8 417.8 441.0 424.0C453.2 430.2 461.2 434.7 470.0 440.0C478.8 445.3 484.7 449.7 494.0 456.0C503.3 462.3 520.7 474.3 526.0 478.0L539.0 345.5C536.2 349.3 528.1 360.9 522.4 368.4C516.8 375.9 510.9 383.3 505.0 390.5C499.1 397.8 493.0 404.9 486.8 411.9C480.6 418.9 474.2 425.8 467.8 432.5C461.3 439.2 454.7 445.8 448.0 452.3C441.3 458.7 434.5 465.0 427.5 471.2C420.6 477.3 413.5 483.3 406.3 489.2C399.2 495.0 391.9 500.7 384.5 506.3C377.0 511.8 369.5 517.2 361.9 522.4C354.3 527.6 346.6 532.7 338.7 537.5C330.9 542.4 323.0 547.1 315.0 551.7C306.9 556.2 298.8 560.6 290.6 564.8C282.4 569.0 274.1 573.0 265.7 576.9C257.4 580.7 248.9 584.4 240.4 587.9C231.8 591.4 223.2 594.7 214.5 597.9C205.8 601.0 197.1 604.0 188.2 606.8C179.4 609.5 170.5 612.2 161.6 614.6C152.6 617.0 143.6 619.2 134.5 621.3C125.4 623.3 116.3 625.2 107.1 626.9C98.0 628.6 88.7 630.1 79.5 631.4C70.2 632.7 60.9 633.8 51.5 634.7C42.2 635.7 32.8 636.4 23.4 636.9C13.9 637.5 -0.3 637.8 -5.0 638.0Z" fill="url(#gFloor)"/>
<clipPath id="cFloor"><path d="M-5.0 391.0C56.7 391.0 303.3 391.0 365.0 391.0L365.0 391.0C366.5 391.1 371.3 390.8 374.0 391.5C376.7 392.2 377.2 393.1 381.0 395.0C384.8 396.9 387.0 398.2 397.0 403.0C407.0 407.8 428.8 417.8 441.0 424.0C453.2 430.2 461.2 434.7 470.0 440.0C478.8 445.3 484.7 449.7 494.0 456.0C503.3 462.3 520.7 474.3 526.0 478.0L539.0 345.5C536.2 349.3 528.1 360.9 522.4 368.4C516.8 375.9 510.9 383.3 505.0 390.5C499.1 397.8 493.0 404.9 486.8 411.9C480.6 418.9 474.2 425.8 467.8 432.5C461.3 439.2 454.7 445.8 448.0 452.3C441.3 458.7 434.5 465.0 427.5 471.2C420.6 477.3 413.5 483.3 406.3 489.2C399.2 495.0 391.9 500.7 384.5 506.3C377.0 511.8 369.5 517.2 361.9 522.4C354.3 527.6 346.6 532.7 338.7 537.5C330.9 542.4 323.0 547.1 315.0 551.7C306.9 556.2 298.8 560.6 290.6 564.8C282.4 569.0 274.1 573.0 265.7 576.9C257.4 580.7 248.9 584.4 240.4 587.9C231.8 591.4 223.2 594.7 214.5 597.9C205.8 601.0 197.1 604.0 188.2 606.8C179.4 609.5 170.5 612.2 161.6 614.6C152.6 617.0 143.6 619.2 134.5 621.3C125.4 623.3 116.3 625.2 107.1 626.9C98.0 628.6 88.7 630.1 79.5 631.4C70.2 632.7 60.9 633.8 51.5 634.7C42.2 635.7 32.8 636.4 23.4 636.9C13.9 637.5 -0.3 637.8 -5.0 638.0Z"/></clipPath>
<g clip-path="url(#cFloor)">
<g transform="rotate(4 200 500)"><rect x="-60" y="340" width="640" height="340" fill="#fff" filter="url(#grain)" opacity=".5"/></g><g transform="rotate(3 200 500)"><rect x="-60" y="340" width="640" height="340" fill="#8f9a96" filter="url(#grain2)" opacity=".3"/></g>
<path d="M70 391 C68 470 72 540 78 612" stroke="#ebe7d4" stroke-width="1.7" fill="none"/>
<path d="M209.6 392 C222 405 236 420 244 432.8 C252 446 258 460 263 472.8 C269 483 274 492 279 501.6 C283 509 286 516 289 524 C293 534 297 544 300 554" stroke="#ebe7d4" stroke-width="1.7" fill="none"/>
</g>
<clipPath id="cBand"><path d="M-5.0 638.0C-0.3 637.8 13.9 637.5 23.4 636.9C32.8 636.4 42.2 635.7 51.5 634.7C60.9 633.8 70.2 632.7 79.5 631.4C88.7 630.1 98.0 628.6 107.1 626.9C116.3 625.2 125.4 623.3 134.5 621.3C143.6 619.2 152.6 617.0 161.6 614.6C170.5 612.2 179.4 609.5 188.2 606.8C197.1 604.0 205.8 601.0 214.5 597.9C223.2 594.7 231.8 591.4 240.4 587.9C248.9 584.4 257.4 580.7 265.7 576.9C274.1 573.0 282.4 569.0 290.6 564.8C298.8 560.6 306.9 556.2 315.0 551.7C323.0 547.1 330.9 542.4 338.7 537.5C346.6 532.7 354.3 527.6 361.9 522.4C369.5 517.2 377.0 511.8 384.5 506.3C391.9 500.7 399.2 495.0 406.3 489.2C413.5 483.3 420.6 477.3 427.5 471.2C434.5 465.0 441.3 458.7 448.0 452.3C454.7 445.8 461.3 439.2 467.8 432.5C474.2 425.8 480.6 418.9 486.8 411.9C493.0 404.9 499.1 397.8 505.0 390.5C510.9 383.3 516.8 375.9 522.4 368.4C528.1 360.9 536.2 349.3 539.0 345.5L539.0 345.5C540.0 347.1 543.1 351.8 544.9 355.3C546.7 358.7 548.3 362.4 549.7 366.1C551.1 369.9 552.3 373.8 553.3 377.8C554.4 381.8 555.2 385.9 555.8 390.0C556.4 394.1 556.8 398.4 557.0 402.6C557.2 406.8 557.2 411.0 556.9 415.2C556.7 419.4 556.2 423.6 555.5 427.7C554.8 431.8 553.9 435.8 552.7 439.7C551.5 443.6 550.1 447.5 548.4 451.1C546.8 454.8 544.9 458.3 542.7 461.6C540.5 464.9 538.1 468.0 535.4 470.9C532.7 473.7 529.8 476.4 526.5 478.8C523.3 481.1 517.8 484.0 516.0 485.0L516.0 485.0C510.4 487.2 493.7 493.8 482.5 498.2C471.3 502.7 460.1 507.2 448.9 511.8C437.6 516.3 426.4 521.0 415.1 525.5C403.9 530.1 392.6 534.7 381.3 539.2C370.0 543.8 358.7 548.3 347.3 552.8C336.0 557.2 324.6 561.7 313.2 566.0C301.8 570.3 290.3 574.5 278.9 578.6C267.4 582.7 255.9 586.7 244.3 590.6C232.8 594.4 221.2 598.1 209.6 601.6C197.9 605.2 186.3 608.5 174.6 611.7C162.9 614.8 151.1 617.8 139.3 620.5C127.5 623.2 115.6 625.7 103.7 627.9C91.8 630.1 79.8 632.1 67.8 633.7C55.8 635.4 43.7 636.8 31.6 637.8C19.5 638.9 1.1 639.6 -5.0 640.0Z"/></clipPath>
<g filter="url(#blur1)" opacity=".95"><path d="M-5.0 638.0C-0.3 637.8 13.9 637.5 23.4 636.9C32.8 636.4 42.2 635.7 51.5 634.7C60.9 633.8 70.2 632.7 79.5 631.4C88.7 630.1 98.0 628.6 107.1 626.9C116.3 625.2 125.4 623.3 134.5 621.3C143.6 619.2 152.6 617.0 161.6 614.6C170.5 612.2 179.4 609.5 188.2 606.8C197.1 604.0 205.8 601.0 214.5 597.9C223.2 594.7 231.8 591.4 240.4 587.9C248.9 584.4 257.4 580.7 265.7 576.9C274.1 573.0 282.4 569.0 290.6 564.8C298.8 560.6 306.9 556.2 315.0 551.7C323.0 547.1 330.9 542.4 338.7 537.5C346.6 532.7 354.3 527.6 361.9 522.4C369.5 517.2 377.0 511.8 384.5 506.3C391.9 500.7 399.2 495.0 406.3 489.2C413.5 483.3 420.6 477.3 427.5 471.2C434.5 465.0 441.3 458.7 448.0 452.3C454.7 445.8 461.3 439.2 467.8 432.5C474.2 425.8 480.6 418.9 486.8 411.9C493.0 404.9 499.1 397.8 505.0 390.5C510.9 383.3 516.8 375.9 522.4 368.4C528.1 360.9 536.2 349.3 539.0 345.5L539.0 345.5C540.0 347.1 543.1 351.8 544.9 355.3C546.7 358.7 548.3 362.4 549.7 366.1C551.1 369.9 552.3 373.8 553.3 377.8C554.4 381.8 555.2 385.9 555.8 390.0C556.4 394.1 556.8 398.4 557.0 402.6C557.2 406.8 557.2 411.0 556.9 415.2C556.7 419.4 556.2 423.6 555.5 427.7C554.8 431.8 553.9 435.8 552.7 439.7C551.5 443.6 550.1 447.5 548.4 451.1C546.8 454.8 544.9 458.3 542.7 461.6C540.5 464.9 538.1 468.0 535.4 470.9C532.7 473.7 529.8 476.4 526.5 478.8C523.3 481.1 517.8 484.0 516.0 485.0L516.0 485.0C510.4 487.2 493.7 493.8 482.5 498.2C471.3 502.7 460.1 507.2 448.9 511.8C437.6 516.3 426.4 521.0 415.1 525.5C403.9 530.1 392.6 534.7 381.3 539.2C370.0 543.8 358.7 548.3 347.3 552.8C336.0 557.2 324.6 561.7 313.2 566.0C301.8 570.3 290.3 574.5 278.9 578.6C267.4 582.7 255.9 586.7 244.3 590.6C232.8 594.4 221.2 598.1 209.6 601.6C197.9 605.2 186.3 608.5 174.6 611.7C162.9 614.8 151.1 617.8 139.3 620.5C127.5 623.2 115.6 625.7 103.7 627.9C91.8 630.1 79.8 632.1 67.8 633.7C55.8 635.4 43.7 636.8 31.6 637.8C19.5 638.9 1.1 639.6 -5.0 640.0Z" fill="url(#gF2)"/><g clip-path="url(#cBand)"><g transform="rotate(-50 500 420)"><rect x="330" y="300" width="340" height="300" fill="#fff" filter="url(#grain)" opacity=".15"/><rect x="330" y="300" width="340" height="300" fill="#fff" filter="url(#marble)" opacity=".36"/></g></g></g>
<path d="M-5.0 617.0C-1.1 616.5 10.5 615.3 18.3 614.3C26.2 613.3 34.2 612.2 42.2 611.0C50.3 609.8 58.4 608.5 66.6 607.0C74.8 605.6 83.0 604.0 91.3 602.4C99.5 600.7 107.8 598.9 116.1 596.9C124.4 595.0 132.6 592.9 140.9 590.7C149.1 588.5 157.4 586.1 165.5 583.6C173.7 581.1 181.8 578.4 189.8 575.6C197.8 572.7 205.8 569.7 213.7 566.6C221.5 563.4 229.3 560.0 236.9 556.5C244.5 553.0 252.0 549.3 259.3 545.4C266.7 541.5 273.9 537.4 280.9 533.1C287.8 528.8 294.7 524.4 301.3 519.7C307.9 515.0 314.3 510.1 320.5 505.0C326.7 499.9 332.6 494.5 338.3 489.0C344.0 483.4 349.5 477.6 354.6 471.6C359.7 465.6 364.6 459.4 369.2 452.9C373.7 446.4 378.0 439.7 381.9 432.8C385.8 425.9 389.4 418.8 392.6 411.4C395.8 404.0 398.7 396.4 401.1 388.6C403.6 380.7 405.7 372.7 407.3 364.4C409.0 356.1 410.2 347.6 411.0 338.9C411.8 330.1 411.8 316.5 412.0 312.0L412.0 312.0C414.0 312.4 420.1 313.4 423.7 314.6C427.3 315.8 430.6 317.4 433.6 319.3C436.7 321.2 439.4 323.5 442.0 325.9C444.6 328.3 446.9 331.1 449.1 333.9C451.3 336.8 453.3 339.9 455.3 343.1C457.2 346.2 459.1 349.6 460.9 353.0C462.7 356.3 464.4 359.8 466.1 363.2C467.9 366.6 469.5 370.1 471.3 373.5C473.1 376.9 474.9 380.3 476.9 383.5C478.8 386.7 480.8 389.8 483.0 392.8C485.2 395.7 488.8 399.6 490.0 401.0L490.0 401.0C489.5 402.8 490.5 406.7 486.8 411.9C483.1 417.2 474.2 425.8 467.8 432.5C461.3 439.2 454.7 445.8 448.0 452.3C441.3 458.7 434.5 465.0 427.5 471.2C420.6 477.3 413.5 483.3 406.3 489.2C399.2 495.0 391.9 500.7 384.5 506.3C377.0 511.8 369.5 517.2 361.9 522.4C354.3 527.6 346.6 532.7 338.7 537.5C330.9 542.4 323.0 547.1 315.0 551.7C306.9 556.2 298.8 560.6 290.6 564.8C282.4 569.0 274.1 573.0 265.7 576.9C257.4 580.7 248.9 584.4 240.4 587.9C231.8 591.4 223.2 594.7 214.5 597.9C205.8 601.0 197.1 604.0 188.2 606.8C179.4 609.5 170.5 612.2 161.6 614.6C152.6 617.0 143.6 619.2 134.5 621.3C125.4 623.3 116.3 625.2 107.1 626.9C98.0 628.6 88.7 630.1 79.5 631.4C70.2 632.7 60.9 633.8 51.5 634.7C42.2 635.7 32.8 636.4 23.4 636.9C13.9 637.5 -0.3 637.8 -5.0 638.0Z" fill="url(#gVeil)"/>
<g clip-path="url(#cF1)"><g transform="rotate(-35 420 420)"><rect x="250" y="280" width="340" height="300" fill="#fff" filter="url(#grain)" opacity=".15"/><rect x="330" y="280" width="260" height="300" fill="#fff" filter="url(#marble)" opacity=".3"/></g></g>
<g clip-path="url(#cBand)"><path d="M457.0 434.0L470.0 440.0L494.0 456.0L526.0 478.0L516.0 485.0L482.5 498.2L448.9 511.8L415.1 525.5L381.3 539.2L347.3 552.8L313.2 566.0L278.9 578.6L244.3 590.6L209.6 601.6L174.6 611.7L161.6 614.6L188.2 606.8L214.5 597.9L240.4 587.9L265.7 576.9L290.6 564.8L315.0 551.7L338.7 537.5L361.9 522.4L384.5 506.3L406.3 489.2L427.5 471.2L448.0 452.3Z" fill="#bcc3bf" opacity=".5" filter="url(#blur1)"/></g>
<g clip-path="url(#cBand)"><path d="M139.3 620.5C145.2 619.0 162.9 614.8 174.6 611.7C186.3 608.5 197.9 605.2 209.6 601.6C221.2 598.1 232.8 594.4 244.3 590.6C255.9 586.7 267.4 582.7 278.9 578.6C290.3 574.5 301.8 570.3 313.2 566.0C324.6 561.7 336.0 557.2 347.3 552.8C358.7 548.3 370.0 543.8 381.3 539.2C392.6 534.7 403.9 530.1 415.1 525.5C426.4 521.0 443.2 514.1 448.9 511.8" fill="none" stroke="#a39a86" stroke-width="30" opacity=".4" filter="url(#blur6)"/></g>
<g clip-path="url(#cFloor)" opacity=".55"><path d="M209.6 392 C222 405 236 420 244 432.8 C252 446 258 460 263 472.8 C269 483 274 492 279 501.6 C283 509 286 516 289 524 C293 534 297 544 300 554 L316 598" stroke="#ebe7d4" stroke-width="1.6" fill="none"/><path d="M70 391 C68 470 72 540 78 612" stroke="#ebe7d4" stroke-width="1.5" fill="none"/></g>
<path d="M-5.0 638.0C-0.3 637.8 13.9 637.5 23.4 636.9C32.8 636.4 42.2 635.7 51.5 634.7C60.9 633.8 70.2 632.7 79.5 631.4C88.7 630.1 98.0 628.6 107.1 626.9C116.3 625.2 125.4 623.3 134.5 621.3C143.6 619.2 152.6 617.0 161.6 614.6C170.5 612.2 179.4 609.5 188.2 606.8C197.1 604.0 205.8 601.0 214.5 597.9C223.2 594.7 231.8 591.4 240.4 587.9C248.9 584.4 257.4 580.7 265.7 576.9C274.1 573.0 282.4 569.0 290.6 564.8C298.8 560.6 306.9 556.2 315.0 551.7C323.0 547.1 330.9 542.4 338.7 537.5C346.6 532.7 354.3 527.6 361.9 522.4C369.5 517.2 377.0 511.8 384.5 506.3C391.9 500.7 399.2 495.0 406.3 489.2C413.5 483.3 420.6 477.3 427.5 471.2C434.5 465.0 441.3 458.7 448.0 452.3C454.7 445.8 461.3 439.2 467.8 432.5C474.2 425.8 480.6 418.9 486.8 411.9C493.0 404.9 499.1 397.8 505.0 390.5C510.9 383.3 516.8 375.9 522.4 368.4C528.1 360.9 536.2 349.3 539.0 345.5" fill="none" stroke="#c9d0d3" stroke-width="2.6" opacity=".55" transform="translate(-2 -1.6)" filter="url(#blur1)"/>
<path d="M-5.0 617.0C-1.1 616.5 10.5 615.3 18.3 614.3C26.2 613.3 34.2 612.2 42.2 611.0C50.3 609.8 58.4 608.5 66.6 607.0C74.8 605.6 83.0 604.0 91.3 602.4C99.5 600.7 107.8 598.9 116.1 596.9C124.4 595.0 132.6 592.9 140.9 590.7C149.1 588.5 157.4 586.1 165.5 583.6C173.7 581.1 181.8 578.4 189.8 575.6C197.8 572.7 205.8 569.7 213.7 566.6C221.5 563.4 229.3 560.0 236.9 556.5C244.5 553.0 252.0 549.3 259.3 545.4C266.7 541.5 273.9 537.4 280.9 533.1C287.8 528.8 294.7 524.4 301.3 519.7C307.9 515.0 314.3 510.1 320.5 505.0C326.7 499.9 332.6 494.5 338.3 489.0C344.0 483.4 349.5 477.6 354.6 471.6C359.7 465.6 364.6 459.4 369.2 452.9C373.7 446.4 378.0 439.7 381.9 432.8C385.8 425.9 389.4 418.8 392.6 411.4C395.8 404.0 398.7 396.4 401.1 388.6C403.6 380.7 405.7 372.7 407.3 364.4C409.0 356.1 410.2 347.6 411.0 338.9C411.8 330.1 411.8 316.5 412.0 312.0" fill="none" stroke="#f4fbff" stroke-width="2.6" stroke-linecap="round"/>
<path d="M-5.0 638.0C-0.3 637.8 13.9 637.5 23.4 636.9C32.8 636.4 42.2 635.7 51.5 634.7C60.9 633.8 70.2 632.7 79.5 631.4C88.7 630.1 98.0 628.6 107.1 626.9C116.3 625.2 125.4 623.3 134.5 621.3C143.6 619.2 152.6 617.0 161.6 614.6C170.5 612.2 179.4 609.5 188.2 606.8C197.1 604.0 205.8 601.0 214.5 597.9C223.2 594.7 231.8 591.4 240.4 587.9C248.9 584.4 257.4 580.7 265.7 576.9C274.1 573.0 282.4 569.0 290.6 564.8C298.8 560.6 306.9 556.2 315.0 551.7C323.0 547.1 330.9 542.4 338.7 537.5C346.6 532.7 354.3 527.6 361.9 522.4C369.5 517.2 377.0 511.8 384.5 506.3C391.9 500.7 399.2 495.0 406.3 489.2C413.5 483.3 420.6 477.3 427.5 471.2C434.5 465.0 441.3 458.7 448.0 452.3C454.7 445.8 461.3 439.2 467.8 432.5C474.2 425.8 480.6 418.9 486.8 411.9C493.0 404.9 499.1 397.8 505.0 390.5C510.9 383.3 516.8 375.9 522.4 368.4C528.1 360.9 536.2 349.3 539.0 345.5" fill="none" stroke="#fbfdff" stroke-width="3" stroke-linecap="round"/>
<line x1="488.3" y1="281.2" x2="424.3" y2="347.6" stroke="#939393" stroke-width="1.6"/>
<line x1="556.5" y1="316.8" x2="508.0" y2="373.0" stroke="#939393" stroke-width="1.6"/>
<line x1="624.4" y1="370.2" x2="531.2" y2="429.5" stroke="#939393" stroke-width="1.6"/>
<line x1="672.1" y1="431.3" x2="534.7" y2="507.3" stroke="#939393" stroke-width="1.6"/>
<line x1="708.9" y1="501.7" x2="598.0" y2="542.7" stroke="#939393" stroke-width="1.6"/>
<line x1="735.6" y1="581.4" x2="641.3" y2="596.0" stroke="#939393" stroke-width="1.6"/>
<line x1="739.4" y1="686.0" x2="644.8" y2="660.0" stroke="#939393" stroke-width="1.6"/>
<line x1="727.8" y1="778.3" x2="629.0" y2="722.0" stroke="#939393" stroke-width="1.6"/>
<line x1="665.3" y1="911.5" x2="552.8" y2="834.0" stroke="#939393" stroke-width="1.6"/>
<circle cx="424.3" cy="347.6" r="3" fill="#fff" fill-opacity=".4" stroke="#8a8a8a" stroke-width="1.4"/>
<circle cx="508.0" cy="373.0" r="3" fill="#fff" fill-opacity=".4" stroke="#8a8a8a" stroke-width="1.4"/>
<circle cx="531.2" cy="429.5" r="3" fill="#fff" fill-opacity=".4" stroke="#8a8a8a" stroke-width="1.4"/>
<circle cx="534.7" cy="507.3" r="3" fill="#fff" fill-opacity=".4" stroke="#8a8a8a" stroke-width="1.4"/>
<circle cx="598.0" cy="542.7" r="3" fill="#fff" fill-opacity=".4" stroke="#8a8a8a" stroke-width="1.4"/>
<circle cx="641.3" cy="596.0" r="3" fill="#fff" fill-opacity=".4" stroke="#8a8a8a" stroke-width="1.4"/>
<circle cx="644.8" cy="660.0" r="3" fill="#fff" fill-opacity=".4" stroke="#8a8a8a" stroke-width="1.4"/>
<circle cx="629.0" cy="722.0" r="3" fill="#fff" fill-opacity=".4" stroke="#8a8a8a" stroke-width="1.4"/>
<circle cx="552.8" cy="834.0" r="3" fill="#fff" fill-opacity=".4" stroke="#8a8a8a" stroke-width="1.4"/>
<circle cx="496.5" cy="271.0" r="16" fill="#999" opacity=".35" filter="url(#bsh)"/>
<circle cx="496.0" cy="269.5" r="15.5" fill="#e8492f"/>
<text x="496.0" y="275.8" text-anchor="middle" font-family="'Liberation Sans',sans-serif" font-weight="700" font-size="17.5" fill="#fff">1</text>
<circle cx="564.0" cy="306.2" r="16" fill="#999" opacity=".35" filter="url(#bsh)"/>
<circle cx="563.5" cy="304.7" r="15.5" fill="#e8492f"/>
<text x="563.5" y="311.0" text-anchor="middle" font-family="'Liberation Sans',sans-serif" font-weight="700" font-size="17.5" fill="#fff">2</text>
<circle cx="635.2" cy="362.2" r="16" fill="#999" opacity=".35" filter="url(#bsh)"/>
<circle cx="634.7" cy="360.7" r="15.5" fill="#e8492f"/>
<text x="634.7" y="367.0" text-anchor="middle" font-family="'Liberation Sans',sans-serif" font-weight="700" font-size="17.5" fill="#fff">3</text>
<circle cx="683.5" cy="424.0" r="16" fill="#999" opacity=".35" filter="url(#bsh)"/>
<circle cx="683.0" cy="422.5" r="15.5" fill="#e8492f"/>
<text x="683.0" y="428.8" text-anchor="middle" font-family="'Liberation Sans',sans-serif" font-weight="700" font-size="17.5" fill="#fff">4</text>
<circle cx="721.5" cy="496.1" r="16" fill="#999" opacity=".35" filter="url(#bsh)"/>
<circle cx="721.0" cy="494.6" r="15.5" fill="#e8492f"/>
<text x="721.0" y="500.9" text-anchor="middle" font-family="'Liberation Sans',sans-serif" font-weight="700" font-size="17.5" fill="#fff">5</text>
<circle cx="749.3" cy="578.3" r="16" fill="#999" opacity=".35" filter="url(#bsh)"/>
<circle cx="748.8" cy="576.8" r="15.5" fill="#e8492f"/>
<text x="748.8" y="583.1" text-anchor="middle" font-family="'Liberation Sans',sans-serif" font-weight="700" font-size="17.5" fill="#fff">6</text>
<circle cx="753.8" cy="688.7" r="16" fill="#999" opacity=".35" filter="url(#bsh)"/>
<circle cx="753.3" cy="687.2" r="15.5" fill="#e8492f"/>
<text x="753.3" y="693.5" text-anchor="middle" font-family="'Liberation Sans',sans-serif" font-weight="700" font-size="17.5" fill="#fff">7</text>
<circle cx="741.5" cy="784.5" r="16" fill="#999" opacity=".35" filter="url(#bsh)"/>
<circle cx="741.0" cy="783.0" r="15.5" fill="#e8492f"/>
<text x="741.0" y="789.3" text-anchor="middle" font-family="'Liberation Sans',sans-serif" font-weight="700" font-size="17.5" fill="#fff">8</text>
<circle cx="678.5" cy="918.8" r="16" fill="#999" opacity=".35" filter="url(#bsh)"/>
<circle cx="678.0" cy="917.3" r="15.5" fill="#e8492f"/>
<text x="678.0" y="923.6" text-anchor="middle" font-family="'Liberation Sans',sans-serif" font-weight="700" font-size="17.5" fill="#fff">9</text>
<circle cx="971.4" cy="327.8" r="21.2" fill="#bbb" opacity=".22" filter="url(#bsh)"/>
<circle cx="971.2" cy="326.3" r="20.8" fill="#e8492f"/>
<text x="0" y="0" text-anchor="middle" font-family="'Liberation Sans',sans-serif" font-weight="700" font-size="23" fill="#fff" transform="translate(970.9 335.7) scale(1.02 1)">1</text>
<circle cx="971.4" cy="395.8" r="21.2" fill="#bbb" opacity=".22" filter="url(#bsh)"/>
<circle cx="971.2" cy="394.3" r="20.8" fill="#e8492f"/>
<text x="0" y="0" text-anchor="middle" font-family="'Liberation Sans',sans-serif" font-weight="700" font-size="23" fill="#fff" transform="translate(970.9 403.7) scale(1.02 1)">2</text>
<circle cx="971.4" cy="463.8" r="21.2" fill="#bbb" opacity=".22" filter="url(#bsh)"/>
<circle cx="971.2" cy="462.3" r="20.8" fill="#e8492f"/>
<text x="0" y="0" text-anchor="middle" font-family="'Liberation Sans',sans-serif" font-weight="700" font-size="23" fill="#fff" transform="translate(970.9 471.7) scale(1.02 1)">3</text>
<circle cx="971.4" cy="531.8" r="21.2" fill="#bbb" opacity=".22" filter="url(#bsh)"/>
<circle cx="971.2" cy="530.3" r="20.8" fill="#e8492f"/>
<text x="0" y="0" text-anchor="middle" font-family="'Liberation Sans',sans-serif" font-weight="700" font-size="23" fill="#fff" transform="translate(970.9 539.7) scale(1.02 1)">4</text>
<circle cx="971.4" cy="599.8" r="21.2" fill="#bbb" opacity=".22" filter="url(#bsh)"/>
<circle cx="971.2" cy="598.3" r="20.8" fill="#e8492f"/>
<text x="0" y="0" text-anchor="middle" font-family="'Liberation Sans',sans-serif" font-weight="700" font-size="23" fill="#fff" transform="translate(970.9 607.7) scale(1.02 1)">5</text>
<circle cx="971.4" cy="668.4" r="21.2" fill="#bbb" opacity=".22" filter="url(#bsh)"/>
<circle cx="971.2" cy="666.9" r="20.8" fill="#e8492f"/>
<text x="0" y="0" text-anchor="middle" font-family="'Liberation Sans',sans-serif" font-weight="700" font-size="23" fill="#fff" transform="translate(970.9 676.3) scale(1.02 1)">6</text>
<circle cx="971.4" cy="736.1" r="21.2" fill="#bbb" opacity=".22" filter="url(#bsh)"/>
<circle cx="971.2" cy="734.6" r="20.8" fill="#e8492f"/>
<text x="0" y="0" text-anchor="middle" font-family="'Liberation Sans',sans-serif" font-weight="700" font-size="23" fill="#fff" transform="translate(970.9 744.0) scale(1.02 1)">7</text>
<circle cx="971.4" cy="803.9" r="21.2" fill="#bbb" opacity=".22" filter="url(#bsh)"/>
<circle cx="971.2" cy="802.4" r="20.8" fill="#e8492f"/>
<text x="0" y="0" text-anchor="middle" font-family="'Liberation Sans',sans-serif" font-weight="700" font-size="23" fill="#fff" transform="translate(970.9 811.8) scale(1.02 1)">8</text>
<circle cx="971.4" cy="871.9" r="21.2" fill="#bbb" opacity=".22" filter="url(#bsh)"/>
<circle cx="971.2" cy="870.4" r="20.8" fill="#e8492f"/>
<text x="0" y="0" text-anchor="middle" font-family="'Liberation Sans',sans-serif" font-weight="700" font-size="23" fill="#fff" transform="translate(970.9 879.8) scale(1.02 1)">9</text>
<circle cx="1307.8" cy="1079" r="17.3" fill="#e8492f"/>
<g fill="#fff"><path d="M1300.6 1082.2 C1301 1077.8 1307.5 1076 1311 1077 C1315.2 1078.4 1316.6 1083 1314.2 1086.4 C1312.4 1088.6 1309.6 1088.4 1307.4 1090.4 C1305 1091.8 1302 1090.2 1301 1087.2 C1300.5 1085.5 1300.4 1083.8 1300.6 1082.2Z"/><ellipse cx="1298.6" cy="1078" rx="2" ry="2.8" transform="rotate(-22 1298.6 1078)"/><ellipse cx="1304.8" cy="1071.2" rx="2.1" ry="3.2" transform="rotate(-8 1304.8 1071.2)"/><ellipse cx="1312" cy="1069.6" rx="2.1" ry="3.2" transform="rotate(8 1312 1069.6)"/><ellipse cx="1317" cy="1074.2" rx="1.9" ry="2.8" transform="rotate(24 1317 1074.2)"/></g>
<text x="1450" y="1075.3" text-anchor="middle" font-family="'Liberation Sans',sans-serif" font-weight="700" font-size="8.5" fill="#111" stroke="#111" stroke-width="1.1">®</text>
</svg>
<h1><span style="letter-spacing:-.05px">Product</span> <span style="letter-spacing:1.06px">composition</span></h1>
<div class="sub">Textile backing</div>
<div class="lg" style="top:305.6px;line-height:21.9px"><span style="letter-spacing:0.084px">PU lacquer: protection from scratches,</span><br><span style="letter-spacing:-0.142px">stains and dirt</span></div>
<div class="lg" style="top:370.1px;line-height:21.6px"><span style="letter-spacing:-0.052px">Structured emboss: a natural look with</span><br><span style="letter-spacing:0.047px">excellent grip</span></div>
<div class="lg" style="top:453.2px;line-height:21.8px"><span style="letter-spacing:0.062px">Wear layer: durability for a lasting family floor</span></div>
<div class="lg" style="top:521.2px;line-height:21.8px"><span style="letter-spacing:0.039px">Pattern: contemporary natural design</span></div>
<div class="lg" style="top:589.2px;line-height:21.8px"><span style="letter-spacing:-0.054px">Print layer: for sharper design</span></div>
<div class="lg" style="top:657.8px;line-height:21.8px"><span style="letter-spacing:-0.057px">Impregnation layer: enhanced</span></div>
<div class="lg" style="top:725.5px;line-height:21.8px"><span style="letter-spacing:-0.057px">Glass fibre: strength and stability</span></div>
<div class="lg" style="top:793.3px;line-height:21.8px"><span style="letter-spacing:0.069px">PVC backing: versatility in performance</span></div>
<div class="lg" style="top:847.5px;line-height:23.2px"><span style="letter-spacing:-0.102px">Textile backing: easier installation</span><br><span style="letter-spacing:0.132px">and more comfort</span></div>
<div class="logo">leoline</div>
<div class="tag">residential floors</div>
</body></html>
